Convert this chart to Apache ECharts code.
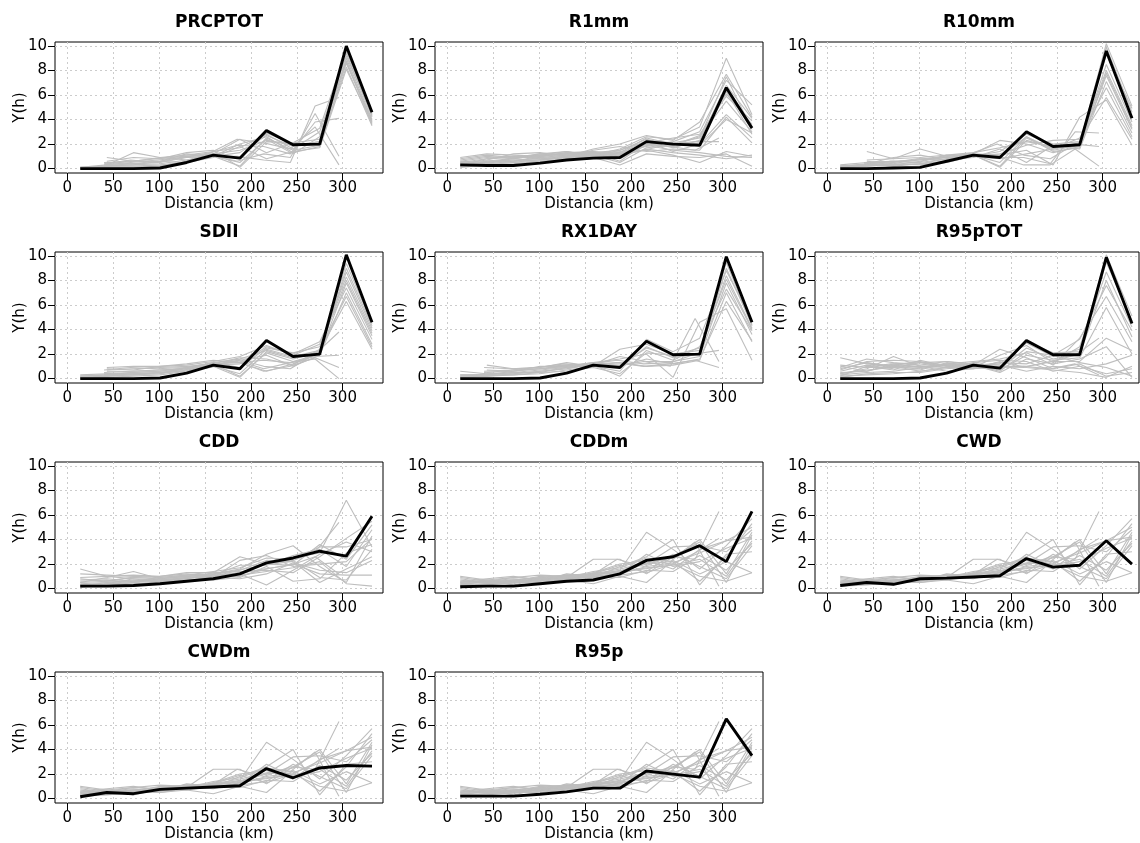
<!DOCTYPE html>
<html>
<head>
<meta charset="utf-8">
<title>Y(h) vs Distancia</title>
<script src="https://cdn.jsdelivr.net/npm/echarts@6/dist/echarts.min.js"></script>
<style>
  html, body { margin: 0; padding: 0; background: #fff; }
  #chart { width: 1140px; height: 843px; }
</style>
</head>
<body>
<div id="chart"></div>
<script>
// Distance bins (km) for the full series and for the shorter station series
const X_MAIN = [14, 43, 72, 101, 130, 159, 188, 217, 246, 275, 304, 332];
const X_SHORT = [40, 69, 98, 127, 156, 185, 214, 243, 270, 296];

const xTicks = [0, 50, 100, 150, 200, 250, 300];
const yTicks = [0, 2, 4, 6, 8, 10];

const panelNames = ['PRCPTOT', 'R1mm', 'R10mm', 'SDII', 'RX1DAY', 'R95pTOT',
                    'CDD', 'CDDm', 'CWD', 'CWDm', 'R95p'];

// Highlighted (black) curve of each index
const prcptotMain = [0, 0, 0, 0.05, 0.5, 1.1, 0.85, 3.1, 1.95, 2.0, 10.0, 4.6];
const r1mmMain    = [0.3, 0.25, 0.25, 0.45, 0.7, 0.85, 0.9, 2.2, 2.0, 1.9, 6.6, 3.3];
const r10mmMain   = [0, 0, 0.05, 0.1, 0.6, 1.1, 0.9, 3.0, 1.8, 1.95, 9.6, 4.1];
const sdiiMain    = [0, 0, 0, 0.05, 0.45, 1.1, 0.8, 3.1, 1.8, 2.0, 10.1, 4.6];
const rx1dayMain  = [0, 0, 0, 0.05, 0.45, 1.1, 0.9, 3.05, 1.95, 2.0, 9.95, 4.6];
const r95ptotMain = [0, 0, 0, 0.05, 0.45, 1.1, 0.85, 3.1, 1.95, 1.95, 9.9, 4.5];
const cddMain     = [0.2, 0.2, 0.25, 0.4, 0.6, 0.8, 1.2, 2.1, 2.5, 3.05, 2.65, 5.9];
const cddmMain    = [0.15, 0.2, 0.2, 0.4, 0.6, 0.7, 1.2, 2.3, 2.6, 3.5, 2.2, 6.3];
const cwdMain     = [0.25, 0.5, 0.35, 0.8, 0.85, 0.95, 1.05, 2.45, 1.75, 1.9, 3.9, 2.0];
const cwdmMain    = [0.15, 0.5, 0.4, 0.75, 0.85, 0.95, 1.05, 2.45, 1.7, 2.5, 2.7, 2.65];
const r95pMain    = [0.2, 0.2, 0.2, 0.35, 0.55, 0.85, 0.85, 2.25, 2.0, 1.75, 6.5, 3.5];

// Grey station curves: 12 values follow X_MAIN, 10 values follow X_SHORT
const prcptotGray = [
  [0.1,0.1,0.1,0.2,0.5,1.0,1.3,2.7,1.8,2.2,9.4,4.2],
  [0.05,0.1,0.1,0.2,0.6,1.1,0.9,2.9,2.0,2.0,9.0,4.0],
  [null,0.5,0.4,0.5,0.9,1.0,2.0,2.6,1.3,1.8,8.6,3.8],
  [null,0.9,0.6,0.6,1.0,1.2,2.4,1.3,2.1,2.4,8.8,3.6],
  [0.1,0.3,0.3,0.6,1.2,1.0,0.2,2.5,1.5,1.9,8.3,3.5],
  [null,0.4,0.6,0.9,1.1,1.4,1.7,2.8,1.6,3.0,9.2,4.4],
  [0.0,0.2,0.3,0.4,0.7,1.0,0.5,2.4,1.2,2.6,8.7,3.9],
  [null,0.6,0.9,0.8,1.3,1.5,0.1,2.2,2.1,3.3,9.6,4.5],
  [0.1,0.2,0.2,0.3,0.5,0.9,1.8,0.8,1.4,1.7,8.1,3.7],
  [null,0.3,1.3,0.9,0.7,1.2,1.5,2.3,1.9,2.2,9.8,4.3],
  [0.3,0.5,0.7,0.9,1.0,1.0,0.7,0.5,5.1,5.8],
  [0.5,0.6,0.8,1.0,1.1,0.6,1.2,0.9,4.5,1.0],
  [0.2,0.4,0.6,0.5,1.3,2.4,2.1,1.6,3.4,0.3],
  [0.4,0.7,0.5,0.9,1.3,1.9,1.8,1.2,3.8,4.1]
];
const r1mmGray = [
  [0.3,0.4,0.6,0.7,0.9,1.0,1.2,2.3,2.1,2.5,7.5,3.2],
  [0.5,0.8,0.9,1.0,1.2,1.1,1.6,2.6,2.4,3.4,9.0,4.4],
  [0.2,0.3,0.5,0.6,0.8,1.0,0.9,2.0,1.8,2.1,6.3,2.8],
  [0.9,1.2,1.1,1.0,1.3,1.2,1.4,1.8,2.2,3.0,7.2,5.2],
  [0.4,0.6,0.7,0.8,1.0,1.5,1.8,1.4,1.6,1.5,4.2,2.1],
  [0.6,0.9,1.0,0.9,1.1,1.3,0.6,2.1,2.5,2.8,5.9,3.9],
  [0.1,0.3,0.4,0.6,0.7,0.9,0.3,1.2,1.0,0.9,1.2,0.2],
  [0.3,0.5,0.8,1.1,1.2,1.4,1.0,1.6,1.3,1.1,0.8,1.1],
  [0.7,1.0,0.8,1.2,1.4,1.0,1.3,2.5,2.0,1.9,4.0,2.9],
  [0.2,0.6,0.6,0.9,1.0,1.2,1.1,2.2,1.7,2.3,6.8,4.1],
  [0.4,0.7,1.2,1.3,1.0,1.6,2.0,2.7,2.3,3.8,7.7,4.2],
  [0.5,0.4,0.9,1.1,1.4,1.1,0.8,1.9,1.5,1.3,1.0,0.9],
  [0.3,0.8,1.0,0.8,0.9,1.3,1.5,2.4,1.9,2.6,5.5,3.0],
  [0.6,0.5,0.6,1.0,1.3,1.4,1.2,1.5,1.1,0.5,1.4,1.0],
  [0.8,1.1,0.9,1.2,1.1,1.0,1.5,2.2,1.4,2.0,4.4,2.5],
  [0.2,0.5,0.7,0.7,0.9,1.1,0.5,1.7,1.9,2.7,6.1,3.6],
  [0.6,0.8,1.0,1.2,1.3,1.0,2.0,1.8,1.5,2.5],
  [0.4,0.5,0.7,0.9,1.1,1.3,1.5,2.0,2.2,2.2]
];
const r10mmGray = [
  [0.2,0.3,0.3,0.4,0.6,1.0,1.0,2.6,1.6,2.0,9.9,4.6],
  [0.1,0.2,0.3,0.4,0.8,1.1,0.2,2.5,1.5,1.9,8.5,3.8],
  [null,1.4,0.8,1.6,1.0,1.2,2.3,2.0,1.3,1.8,7.6,3.2],
  [0.2,0.3,0.5,0.7,0.9,1.2,1.1,1.5,0.3,4.2,5.6,1.9],
  [null,0.6,0.4,0.3,0.5,1.0,1.4,2.8,2.0,2.2,9.3,4.9],
  [0.1,0.2,0.4,0.8,0.9,1.0,0.8,1.2,1.6,2.5,6.6,2.6],
  [0.3,0.5,0.6,0.5,0.8,1.1,0.1,2.3,1.7,2.1,8.0,3.5],
  [null,0.4,0.9,1.1,0.7,0.9,1.6,0.5,1.9,1.6,7.1,2.9],
  [0.1,0.3,0.3,0.6,1.1,1.3,1.7,2.2,1.8,2.0,10.2,5.1],
  [0.2,0.4,0.2,0.4,0.6,1.1,0.5,2.6,1.4,1.7,7.8,3.3],
  [null,0.7,0.8,0.9,1.1,1.0,1.2,1.9,2.3,2.4,5.8,2.4],
  [0.5,0.6,0.7,0.9,1.0,1.0,0.3,0.3,1.6,0.2],
  [0.4,0.5,0.8,0.7,1.2,2.0,1.1,0.8,2.0,1.8],
  [0.3,0.6,0.5,1.0,1.2,0.9,0.9,0.4,3.0,2.9]
];
const sdiiGray = [
  [0.3,0.4,0.4,0.5,0.8,1.3,1.6,2.3,1.7,2.1,9.0,4.3],
  [null,0.9,1.0,1.0,1.1,1.4,1.8,2.7,1.9,2.8,8.3,3.9],
  [null,0.7,0.8,0.9,1.0,1.2,0.2,2.1,1.4,2.0,7.8,3.5],
  [0.1,0.2,0.3,0.4,0.7,1.0,0.4,2.4,1.8,2.3,6.3,2.4],
  [0.2,0.3,0.5,0.6,0.9,1.1,1.5,1.9,1.0,1.9,7.0,2.8],
  [null,0.8,0.7,1.0,1.2,1.5,1.3,0.6,1.2,2.1,8.7,4.1],
  [0.1,0.1,0.2,0.3,0.6,1.0,0.1,2.2,1.6,2.2,9.4,4.5],
  [null,0.6,0.6,0.7,0.8,1.1,1.2,2.6,2.0,3.0,7.4,3.2],
  [0.2,0.3,0.3,0.5,0.6,1.2,1.7,1.6,1.1,2.4,6.7,2.6],
  [0.0,0.2,0.4,0.4,0.9,1.3,0.9,2.5,2.1,2.6,8.0,3.7],
  [0.7,0.9,0.8,0.9,1.2,1.3,1.5,1.3,1.8,1.9],
  [0.5,0.6,0.7,0.8,1.0,1.6,1.0,0.8,2.0,3.8],
  [0.4,0.5,0.6,0.7,1.1,1.4,0.6,1.0,1.7,0.9],
  [0.3,0.4,0.5,0.6,0.9,1.5,0.8,1.3,1.6,0.0]
];
const rx1dayGray = [
  [0.6,0.4,0.4,0.6,0.8,1.2,1.1,2.5,1.8,2.1,9.0,4.4],
  [null,1.1,0.8,0.9,1.3,1.0,2.4,2.8,2.0,2.3,8.4,4.1],
  [0.3,0.3,0.5,0.7,0.9,1.1,0.2,2.3,1.5,2.6,7.3,3.9],
  [0.2,0.3,0.6,1.0,1.0,1.3,1.6,2.0,0.1,4.6,5.7,1.5],
  [null,0.7,0.6,0.8,1.1,1.2,1.0,1.6,1.2,1.6,6.3,3.1],
  [0.1,0.2,0.3,0.4,0.7,1.0,0.6,3.2,2.2,3.3,8.8,4.7],
  [0.2,0.4,0.5,0.5,0.9,1.1,1.8,1.4,1.4,1.8,7.8,3.6],
  [null,0.5,0.7,0.8,1.0,1.3,0.9,2.6,1.7,2.0,9.5,4.3],
  [0.1,0.2,0.4,0.6,0.8,1.2,1.3,1.0,1.1,1.5,7.0,3.0],
  [0.3,0.3,0.3,0.5,0.6,0.9,0.4,2.1,1.9,2.5,8.1,4.0],
  [0.9,0.8,0.9,1.2,1.0,1.0,1.4,1.0,4.9,1.4],
  [0.5,0.6,0.8,0.9,1.2,1.5,1.2,1.3,2.0,2.3],
  [0.6,0.7,0.9,1.1,1.0,1.3,1.0,1.2,1.5,0.9]
];
const r95ptotGray = [
  [1.7,1.2,1.0,0.8,1.1,1.0,1.2,2.9,1.8,2.4,9.5,4.7],
  [0.9,1.6,1.3,1.1,1.4,1.2,0.8,2.5,1.6,2.0,8.0,3.4],
  [0.4,0.8,1.8,1.0,0.9,1.1,2.4,1.7,0.8,1.2,0.2,0.5],
  [0.2,1.0,0.7,1.5,1.0,0.8,1.0,1.0,1.4,1.4,3.3,2.3],
  [0.5,0.6,1.2,1.3,1.4,1.1,0.6,2.2,1.9,3.2,7.6,3.9],
  [0.8,1.3,1.0,0.6,0.9,1.3,1.5,1.4,0.6,1.0,0.4,0.8],
  [0.3,0.5,0.6,0.9,1.2,0.9,1.9,2.7,1.3,2.6,8.7,4.2],
  [1.1,0.9,0.9,1.3,1.0,1.2,1.1,0.6,1.0,0.8,1.2,1.9],
  [0.6,1.1,0.8,0.7,1.3,1.0,0.7,1.9,1.5,1.7,5.8,2.0],
  [0.1,0.4,0.5,0.5,0.8,1.0,1.3,1.2,1.9,1.3,0.9,0.2],
  [0.7,1.4,1.5,1.4,1.1,0.9,0.9,3.0,2.1,2.2,10.1,5.1],
  [0.4,0.7,0.9,1.0,0.6,0.8,1.4,0.9,0.7,0.5,0.1,1.0],
  [1.0,0.6,1.1,0.9,1.2,1.4,1.6,2.1,1.1,3.3,6.7,3.0],
  [0.2,0.3,0.4,0.6,0.9,1.1,0.5,1.6,1.2,1.6,2.6,0.1],
  [0.9,1.2,1.0,1.1,1.2,1.0,0.9,1.4,1.9,3.3],
  [1.3,1.0,1.4,0.9,0.8,0.9,1.0,0.8,1.2,0.3]
];
const cddGray = [
  [1.6,1.0,0.8,0.7,0.9,1.0,1.3,2.1,2.5,2.9,7.2,3.4],
  [0.5,0.9,1.4,0.8,1.0,1.2,1.6,2.8,3.5,1.8,0.5,4.3],
  [0.3,0.4,0.6,0.7,0.8,1.3,2.6,2.0,1.9,3.6,2.4,5.2],
  [0.6,0.7,0.5,0.6,0.9,0.9,1.0,1.6,2.0,1.2,1.1,1.1],
  [0.2,0.3,0.4,0.5,0.7,0.8,1.2,0.3,1.5,2.8,3.8,3.0],
  [0.8,0.6,0.9,1.0,1.2,1.0,1.5,2.3,2.2,0.5,1.6,2.6],
  [0.4,0.5,0.7,0.6,0.8,1.1,1.9,1.9,2.7,3.2,1.8,4.8],
  [1.2,1.1,1.0,0.9,1.1,1.2,1.1,1.4,1.7,2.2,0.4,0.2],
  [0.3,0.2,0.5,0.8,1.0,0.7,0.9,1.8,0.6,0.8,2.9,3.6],
  [0.7,0.8,0.6,0.9,1.1,1.4,1.7,2.5,2.4,3.4,3.4,4.0],
  [0.1,0.4,0.8,0.5,0.6,0.9,0.8,1.2,2.1,1.5,1.3,2.3],
  [0.9,1.0,1.1,1.0,1.3,1.3,1.4,1.5,1.3,2.6,4.1,5.5],
  [0.5,0.6,0.6,0.7,0.9,1.0,1.3,2.0,2.3,0.9,0.7,3.2],
  [0.2,0.5,0.3,0.6,0.7,0.9,2.3,2.7,1.8,2.0,2.2,4.1],
  [0.6,0.9,0.8,1.0,1.1,1.5,1.9,2.2,3.0,5.4],
  [0.4,0.5,0.7,0.8,1.0,1.2,1.6,1.9,2.6,1.2]
];
// Shared grey set for CDDm, CWD, CWDm and R95p
const spellGray = [
  [1.0,0.7,0.9,0.8,0.9,2.4,2.4,1.2,2.6,3.8,0.5,4.4],
  [0.5,0.6,0.5,0.7,1.0,1.1,1.5,4.6,3.2,1.6,3.5,5.7],
  [0.3,0.4,0.6,0.6,0.8,0.9,1.8,2.6,4.0,0.3,2.8,3.0],
  [0.8,0.5,0.4,0.9,1.1,1.0,1.2,1.8,2.1,2.9,3.9,5.0],
  [0.2,0.3,0.5,0.5,0.7,0.4,1.0,0.5,2.3,1.2,2.2,1.3],
  [0.6,0.8,1.0,0.7,0.9,1.2,1.6,2.1,2.5,4.0,1.2,4.6],
  [0.4,0.5,0.7,0.9,1.0,0.8,1.3,1.7,1.9,2.4,1.0,3.9],
  [0.7,0.4,0.6,1.0,0.8,1.3,2.0,2.3,1.6,3.2,3.9,4.2],
  [0.3,0.6,0.8,0.6,1.2,1.0,1.1,1.4,2.8,1.8,0.8,3.5],
  [0.5,0.7,0.3,0.8,0.9,1.4,1.7,2.5,2.2,0.6,2.6,5.3],
  [0.9,0.6,0.9,1.1,1.0,0.9,0.9,1.5,1.4,2.7,1.5,3.7],
  [0.2,0.4,0.5,0.5,0.8,1.1,1.4,2.0,3.4,3.5,3.0,4.8],
  [0.6,0.5,0.7,0.9,1.1,1.2,1.9,1.3,2.0,1.0,0.6,1.3],
  [0.4,0.7,0.6,0.7,0.7,1.0,1.2,2.8,1.8,2.2,3.3,4.1],
  [0.5,0.6,0.8,0.9,1.0,2.4,1.8,2.6,2.4,6.3],
  [0.6,0.5,0.7,0.8,1.2,1.4,2.0,2.2,3.8,0.2],
  [0.4,0.7,0.6,1.0,1.1,1.3,1.6,1.9,2.9,4.1]
];

const mainCurves = [prcptotMain, r1mmMain, r10mmMain, sdiiMain, rx1dayMain, r95ptotMain,
                    cddMain, cddmMain, cwdMain, cwdmMain, r95pMain];
const grayCurves = [prcptotGray, r1mmGray, r10mmGray, sdiiGray, rx1dayGray, r95ptotGray,
                    cddGray, spellGray, spellGray, spellGray, spellGray];

// ---- layout ----
const FONT = 'DejaVu Sans';
const BOX_H = 131;
const PX_PER_KM = 328 / 357.5;
const X_MIN = -13.5;
const Y_MIN = -0.36, Y_MAX = 10.33;
const colWidths = [328, 328, 324];

function toPairs(vals) {
  const xs = vals.length === X_MAIN.length ? X_MAIN : X_SHORT;
  const out = [];
  vals.forEach((v, k) => { if (v !== null) out.push([xs[k], v]); });
  return out;
}

const grids = [], xAxes = [], yAxes = [], series = [], graphics = [];

panelNames.forEach((name, i) => {
  const row = Math.floor(i / 3), col = i % 3;
  const left = 55 + 380 * col, top = 42 + 210 * row;
  const width = colWidths[col];
  const xMax = X_MIN + width / PX_PER_KM;

  grids.push({ left: left, top: top, width: width, height: BOX_H,
    show: true, borderColor: '#000', borderWidth: 1, backgroundColor: 'transparent' });

  xAxes.push({
    type: 'value', gridIndex: i, min: X_MIN, max: xMax,
    axisLine: { show: false, onZero: false },
    axisTick: { show: true, customValues: xTicks, length: 7, inside: false,
      lineStyle: { color: '#000', width: 1 } },
    axisLabel: { customValues: xTicks, color: '#000', fontSize: 15, fontFamily: FONT, margin: 8 },
    splitLine: { show: true, lineStyle: { color: '#cccccc', type: [2, 3], width: 1 } }
  });
  yAxes.push({
    type: 'value', gridIndex: i, min: Y_MIN, max: Y_MAX,
    axisLine: { show: false, onZero: false },
    axisTick: { show: true, customValues: yTicks, length: 7, inside: false,
      lineStyle: { color: '#000', width: 1 } },
    axisLabel: { customValues: yTicks, color: '#000', fontSize: 15, fontFamily: FONT, margin: 8 },
    splitLine: { show: true, lineStyle: { color: '#cccccc', type: [2, 3], width: 1 } }
  });

  grayCurves[i].forEach(vals => {
    series.push({
      type: 'line', xAxisIndex: i, yAxisIndex: i, data: toPairs(vals),
      symbol: 'none', showSymbol: false, silent: true, z: 2,
      lineStyle: { color: '#bebebe', width: 1.1 }
    });
  });
  series.push({
    type: 'line', xAxisIndex: i, yAxisIndex: i, data: toPairs(mainCurves[i]),
    symbol: 'none', showSymbol: false, silent: true, z: 3,
    lineStyle: { color: '#000', width: 2.9 }
  });

  const cx = left + 328 / 2;
  graphics.push({ type: 'text', x: cx, y: top - 19,
    style: { text: name, align: 'center', verticalAlign: 'middle',
      fontSize: 17, fontWeight: 'bold', fontFamily: FONT, fill: '#000' } });
  graphics.push({ type: 'text', x: cx, y: top + BOX_H + 31,
    style: { text: 'Distancia (km)', align: 'center', verticalAlign: 'middle',
      fontSize: 15, fontFamily: FONT, fill: '#000' } });
  graphics.push({ type: 'text', x: left - 35, y: top + BOX_H / 2, rotation: Math.PI / 2,
    style: { text: 'Y(h)', align: 'center', verticalAlign: 'middle',
      fontSize: 15, fontFamily: FONT, fill: '#000' } });
});

const chart = echarts.init(document.getElementById('chart'), null, { renderer: 'canvas' });
chart.setOption({
  backgroundColor: '#fff',
  animation: false,
  grid: grids,
  xAxis: xAxes,
  yAxis: yAxes,
  series: series,
  graphic: graphics
});
</script>
</body>
</html>
